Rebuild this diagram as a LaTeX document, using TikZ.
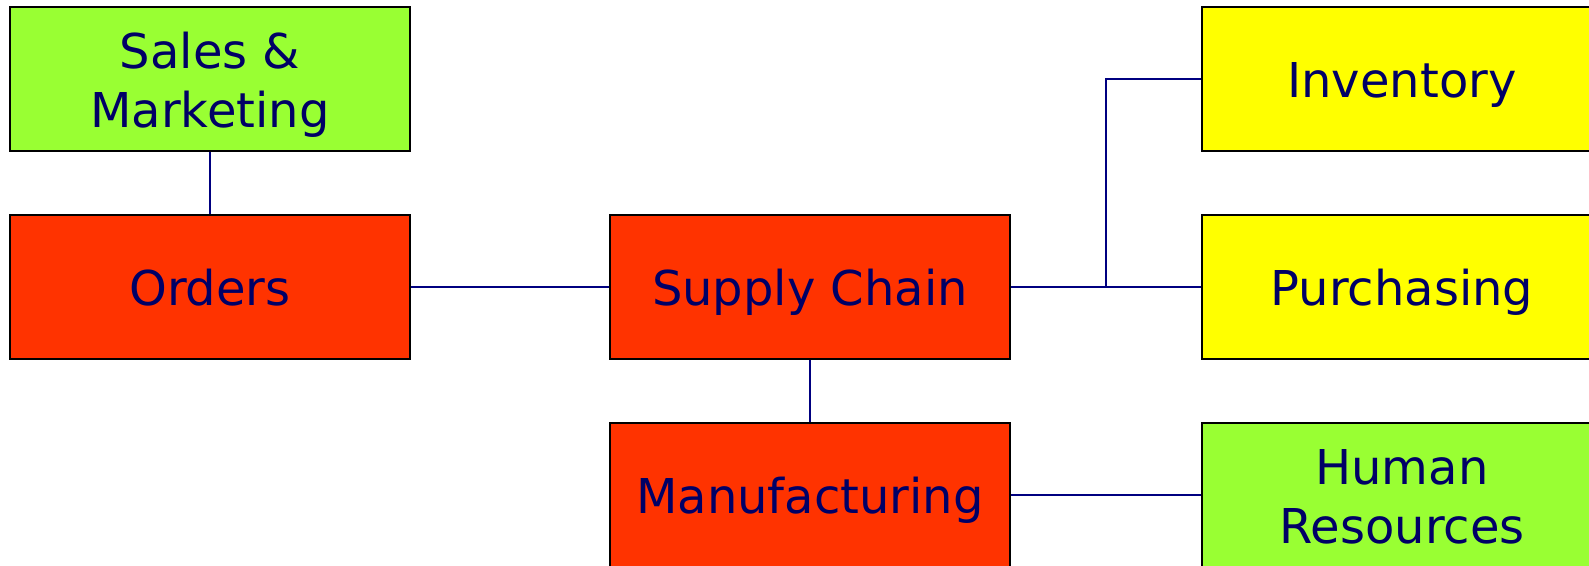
\documentclass[tikz,border=0pt]{standalone}
\usepackage{fontspec}
\setmainfont{DejaVu Sans}
\definecolor{boxred}{HTML}{FF3300}
\definecolor{boxgreen}{HTML}{99FF33}
\definecolor{boxyellow}{HTML}{FFFF00}
\definecolor{navytext}{HTML}{000066}
\definecolor{navyline}{HTML}{000080}
\tikzset{
  unit/.style={draw=black, line width=1.5pt, minimum width=400pt, minimum height=144pt,
    inner sep=0pt, align=center, text=navytext,
    font=\fontsize{48}{59}\selectfont, text height=45.6pt, text depth=8.6pt},
  twoline/.style={text height=104.6pt},
  redunit/.style={unit, fill=boxred},
  greenunit/.style={unit, fill=boxgreen},
  yellowunit/.style={unit, fill=boxyellow},
  link/.style={draw=navyline, line width=2.2pt}
}
\begin{document}
\begin{tikzpicture}[x=1pt, y=-1pt]
  \useasboundingbox (0,0) rectangle (1589,565);
  \clip (0,0) rectangle (1589,565);
  \fill[white] (0,0) rectangle (1589,565);

  % departments
  \node[greenunit, twoline] (sales) at (210,79) {Sales \&\\Marketing};
  \node[redunit]    (orders) at (210,287) {Orders};
  \node[redunit]    (supply) at (810,287) {Supply Chain};
  \node[redunit]    (manuf) at (810,495)  {Manufacturing};
  \node[yellowunit] (inv) at (1402,79)    {Inventory};
  \node[yellowunit] (purch) at (1402,287) {Purchasing};
  \node[greenunit, twoline] (hr) at (1402,495) {Human\\Resources};

  % branch point towards Inventory
  \coordinate (fork) at (1106,287);

  % connections
  \draw[link] (sales.south) -- (orders.north);
  \draw[link] (orders.east) -- (supply.west);
  \draw[link] (supply.south) -- (manuf.north);
  \draw[link] (supply.east) -- (purch.west);
  \draw[link] (fork) |- (inv.west);
  \draw[link] (manuf.east) -- (hr.west);
\end{tikzpicture}
\end{document}
